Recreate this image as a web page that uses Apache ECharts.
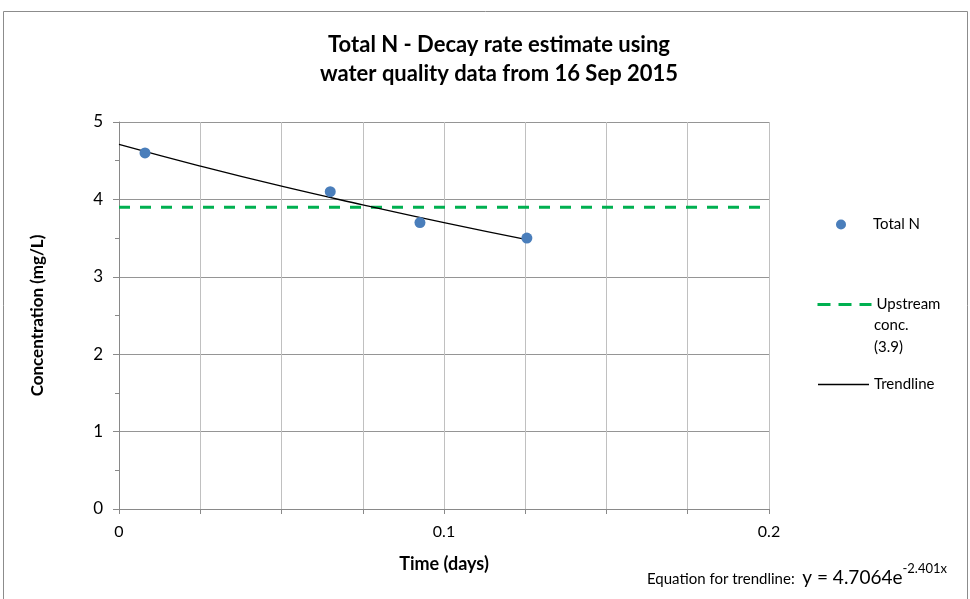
<!DOCTYPE html>
<html><head><meta charset="utf-8">
<script src="https://cdn.jsdelivr.net/npm/echarts@6/dist/echarts.min.js"></script>
<style>html,body{margin:0;padding:0;background:#fff}#c{width:970px;height:599px}</style>
</head><body><div id="c"></div>
<script>
// Observed data (time in days, concentration mg/L)
const obsTime = [0.008, 0.065, 0.0926, 0.1255];
const obsConc = [4.6, 4.1, 3.7, 3.5];
// Upstream concentration
const upstreamTime = [0, 0.2];
const upstreamConc = [3.9, 3.9];
// Trendline points
const trendTime = [0, 0.025, 0.05, 0.075, 0.1, 0.1255];
const trendConc = [4.71, 4.43, 4.17, 3.93, 3.70, 3.48];
const xTickLabels = ['0', '0.1', '0.2'];
const yTickLabels = ['0', '1', '2', '3', '4', '5'];

const FONT = 'Lato, "Open Sans", sans-serif';
const zip = (a, b) => a.map((v, i) => [v, b[i]]);
const chart = echarts.init(document.getElementById('c'));
chart.setOption({
  animation: false,
  backgroundColor: '#fff',
  title: {
    text: 'Total N - Decay rate estimate using\nwater quality data from 16 Sep 2015',
    left: 494, top: 25, textAlign: 'center',
    textStyle: {fontFamily: FONT, fontSize: 22, fontWeight: 'bold', color: '#000', lineHeight: 29}
  },
  grid: {left: 119, right: 201, top: 122, bottom: 90},
  xAxis: {
    type: 'value', min: 0, max: 0.2, interval: 0.025,
    name: 'Time (days)', nameLocation: 'middle', nameGap: 46,
    nameTextStyle: {fontFamily: FONT, fontSize: 18, fontWeight: 'bold', color: '#000'},
    axisLine: {lineStyle: {color: '#898989', width: 1}},
    axisTick: {show: true, length: 5, lineStyle: {color: '#898989'}},
    splitLine: {show: true, lineStyle: {color: '#c0c0c0', width: 1}},
    axisLabel: {fontFamily: FONT, fontSize: 16, color: '#000', margin: 15,
      formatter: v => { const i = xTickLabels.indexOf(String(Math.round(v*1000)/1000)); return i >= 0 ? xTickLabels[i] : ''; }}
  },
  yAxis: {
    type: 'value', min: 0, max: 5, interval: 1,
    name: 'Concentration (mg/L)', nameLocation: 'middle', nameGap: 73,
    nameTextStyle: {fontFamily: FONT, fontSize: 17, fontWeight: 'bold', color: '#000'},
    axisLine: {show: true, lineStyle: {color: '#898989', width: 1}},
    axisTick: {show: true, length: 6, lineStyle: {color: '#898989'}},
    minorTick: {show: true, splitNumber: 2, length: 4, lineStyle: {color: '#898989'}},
    splitLine: {show: true, lineStyle: {color: '#959595', width: 1}},
    axisLabel: {fontFamily: FONT, fontSize: 17, color: '#000', margin: 16,
      formatter: v => yTickLabels[Math.round(v)]}
  },
  legend: [
    {data: ['Total N'], left: 831, top: 212, itemWidth: 54, itemHeight: 10, itemGap: 0,
     itemStyle: {opacity: 1},
     textStyle: {fontFamily: FONT, fontSize: 15, color: '#000'}},
    {data: ['Upstream conc. (3.9)'], left: 811, top: 292, itemWidth: 54, itemHeight: 3,
     formatter: () => 'Upstream',
     lineStyle: {type: [13, 8], width: 3, color: '#00b050'},
     textStyle: {fontFamily: FONT, fontSize: 15, color: '#000'}},
    {data: ['Trendline'], left: 813, top: 372, itemWidth: 51, itemHeight: 1.3, icon: 'rect',
     itemStyle: {color: '#000'},
     textStyle: {fontFamily: FONT, fontSize: 15, color: '#000'}}
  ],
  series: [
    {name: 'Upstream conc. (3.9)', type: 'line', data: zip(upstreamTime, upstreamConc), symbol: 'none',
     lineStyle: {color: '#00b050', width: 3, type: [11, 10]}, itemStyle: {color: '#00b050'}, z: 3},
    {name: 'Trendline', type: 'line', data: zip(trendTime, trendConc), symbol: 'none', smooth: true,
     lineStyle: {color: '#000', width: 1.3}, itemStyle: {color: '#000'}, z: 4},
    {name: 'Total N', type: 'scatter', data: zip(obsTime, obsConc), symbol: 'circle', symbolSize: 11,
     itemStyle: {color: '#4a7ebb', opacity: 1}, z: 5}
  ],
  graphic: [
    {type: 'rect', shape: {x: 3.5, y: 11.5, width: 964, height: 600}, style: {fill: 'none', stroke: '#8c8c8c', lineWidth: 1}, silent: true},
    {type: 'text', left: 874, top: 314, style: {text: 'conc.\n(3.9)', fontFamily: FONT, fontSize: 15, lineHeight: 22, fill: '#000'}},
    {type: 'text', left: 647, top: 562, style: {
      text: '{a|Equation for trendline:  }{b|y = 4.7064e}{c|-2.401x}',
      rich: {
        a: {fontFamily: FONT, fontSize: 15, fill: '#000', verticalAlign: 'bottom'},
        b: {fontFamily: FONT, fontSize: 19, fill: '#000', verticalAlign: 'bottom'},
        c: {fontFamily: FONT, fontSize: 13, fill: '#000', verticalAlign: 'top', padding: [0,0,12,0]}
      }}}
  ]
});
</script></body></html>
